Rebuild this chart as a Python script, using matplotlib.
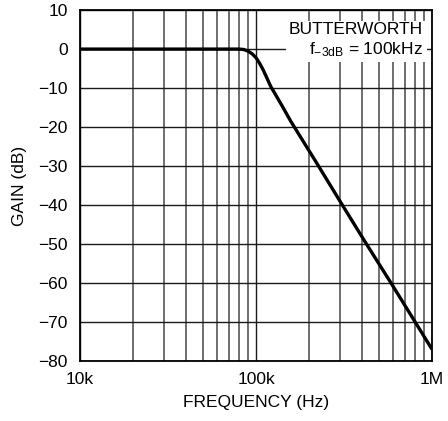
import matplotlib
matplotlib.use('Agg')
import matplotlib.pyplot as plt
from matplotlib.ticker import FixedLocator, NullFormatter

plt.rcParams['font.family'] = ['Liberation Sans', 'DejaVu Sans']
plt.rcParams['mathtext.fontset'] = 'custom'
plt.rcParams['mathtext.rm'] = 'Liberation Sans'
plt.rcParams['mathtext.default'] = 'regular'

# curve
freq = [10e3, 50e3, 80e3, 85e3, 90e3, 95e3, 100e3, 105e3, 110e3, 115e3, 121e3, 140e3, 158e3,
        221e3, 300e3, 407e3, 585e3, 800e3, 1e6]
gain = [0, 0, 0, -0.1, -0.5, -1.2, -2.2, -3.7, -5.4, -7.3, -9.5, -14.4, -18.6,
        -29.2, -39, -48.7, -60, -69.9, -77]

xmajor = [1e4, 1e5, 1e6]
xlabels = ['10k', '100k', '1M']
xminor = [2e4, 3e4, 4e4, 5e4, 6e4, 7e4, 8e4, 9e4,
          2e5, 3e5, 4e5, 5e5, 6e5, 7e5, 8e5, 9e5]
yticks = [10, 0, -10, -20, -30, -40, -50, -60, -70, -80]

fig = plt.figure(figsize=(4.48, 4.21), dpi=100)
ax = fig.add_axes([0.1786, 0.1425, 0.7857, 0.8335])

ax.set_xscale('log')
ax.set_xlim(1e4, 1e6)
ax.set_ylim(-80, 10)

ax.xaxis.set_major_locator(FixedLocator(xmajor))
ax.set_xticklabels(xlabels)
ax.xaxis.set_minor_locator(FixedLocator(xminor))
ax.xaxis.set_minor_formatter(NullFormatter())
ax.set_yticks(yticks)
ax.set_yticklabels([str(v).replace('-', '\u2212') for v in yticks])

ax.grid(which='major', color='#1a1a1a', linewidth=1.0)
ax.grid(which='minor', axis='x', color='#555555', linewidth=1.2)
ax.tick_params(which='both', length=0, labelsize=12.5)
ax.tick_params(axis='y', pad=9)
ax.tick_params(axis='x', pad=8)
for s in ax.spines.values():
    s.set_linewidth(1.3)
    s.set_zorder(5)

ax.plot(freq, gain, color='black', linewidth=2.4, zorder=4, solid_capstyle='butt')

ax.text(0.975, 0.965, 'BUTTERWORTH\nf$_{\u22123dB}$ = 100kHz', transform=ax.transAxes,
        ha='right', va='top', fontsize=12.5, linespacing=1.2, zorder=6,
        bbox=dict(facecolor='white', edgecolor='none', pad=2.5))

ax.set_xlabel('FREQUENCY (Hz)', fontsize=12.5, labelpad=6)
ax.set_ylabel('GAIN (dB)', fontsize=12.5, labelpad=8)

fig.savefig('out.png', dpi=100)
